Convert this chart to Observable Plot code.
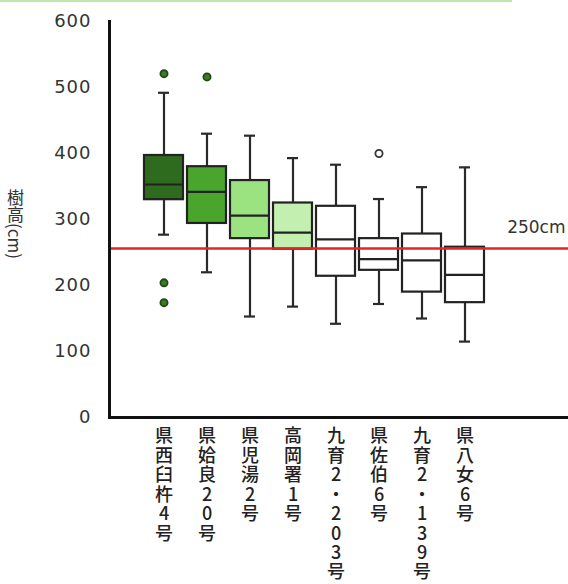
<!DOCTYPE html>
<html>
<head>
<meta charset="utf-8">
<script src="https://cdn.jsdelivr.net/npm/d3@7"></script>
<script src="https://cdn.jsdelivr.net/npm/@observablehq/plot@0.6"></script>
<style>
  html, body { margin: 0; padding: 0; background: #fff; }
  #wrap { position: relative; width: 568px; height: 584px; overflow: hidden; }
  #topbar { position: absolute; left: 0; top: 0; width: 512px; height: 2px; background: #bfe8b0; }
  #ylabel { position: absolute; left: 7px; top: 189px; height: 120px; writing-mode: vertical-rl; font-family: "Noto Sans CJK JP", "DejaVu Sans", sans-serif; font-size: 17px; color: #333; line-height: 1; white-space: nowrap; }
</style>
</head>
<body>
<div id="wrap">
  <div id="chart"></div>
  <div id="topbar"></div>
  <div id="ylabel">樹高(cm)</div>
</div>
<script>
const categories = ["県西臼杵4号", "県姶良20号", "県児湯2号", "高岡署1号", "九育2・203号", "県佐伯6号", "九育2・139号", "県八女6号"];
const whiskerLow  = [277, 220, 153, 168, 142, 172, 150, 115];
const q1          = [330, 294, 271, 255, 214, 223, 190, 174];
const median      = [353, 342, 306, 280, 270, 240, 238, 216];
const q3          = [397, 380, 359, 325, 320, 271, 278, 258];
const whiskerHigh = [492, 430, 427, 393, 383, 331, 349, 379];
const boxFill     = ["#2e6b1f", "#4aa52c", "#9be381", "#c3efb0", "#ffffff", "#ffffff", "#ffffff", "#ffffff"];
const outlierCat  = ["県西臼杵4号", "県西臼杵4号", "県西臼杵4号", "県姶良20号", "県佐伯6号"];
const outlierVal  = [521, 204, 174, 516, 400];
const outlierFill = ["#3a7a28", "#3a7a28", "#3a7a28", "#3a7a28", "#ffffff"];
const threshold = 256;
const thresholdLabel = "250cm";
const yTicks = [0, 100, 200, 300, 400, 500, 600];

const boxes = categories.map((c, i) => ({
  cat: c, lo: whiskerLow[i], q1: q1[i], med: median[i], q3: q3[i], hi: whiskerHigh[i], fill: boxFill[i]
}));
const outliers = outlierCat.map((c, i) => ({cat: c, v: outlierVal[i], fill: outlierFill[i]}));

const capInset = 14;

const plot = Plot.plot({
  width: 568,
  height: 584,
  marginLeft: 109,
  marginRight: 0,
  marginTop: 21,
  marginBottom: 167,
  style: {fontFamily: "'DejaVu Sans', sans-serif", fontSize: "17px", color: "#222", background: "#fff"},
  x: {domain: categories, range: [136, 492], padding: 0.1},
  y: {domain: [0, 600]},
  marks: [
    Plot.ruleX(boxes, {x: "cat", y1: "lo", y2: "q1", stroke: "#2a2a2a", strokeWidth: 2.2}),
    Plot.ruleX(boxes, {x: "cat", y1: "q3", y2: "hi", stroke: "#2a2a2a", strokeWidth: 2.2}),
    Plot.tickY(boxes, {x: "cat", y: "lo", stroke: "#2a2a2a", strokeWidth: 2.2, insetLeft: capInset, insetRight: capInset}),
    Plot.tickY(boxes, {x: "cat", y: "hi", stroke: "#2a2a2a", strokeWidth: 2.2, insetLeft: capInset, insetRight: capInset}),
    Plot.barY(boxes, {x: "cat", y1: "q1", y2: "q3", fill: d => d.fill, stroke: "#222", strokeWidth: 2.2}),
    Plot.tickY(boxes, {x: "cat", y: "med", stroke: "#222", strokeWidth: 2.2}),
    Plot.dot(outliers, {x: "cat", y: "v", r: 3.6, fill: d => d.fill, stroke: d => d.fill === "#ffffff" ? "#333" : "#1f4a14", strokeWidth: 1.8}),
    Plot.ruleY([threshold], {stroke: "#e02626", strokeWidth: 2.5}),
    Plot.text([threshold], {y: d => d, text: () => thresholdLabel, frameAnchor: "right", textAnchor: "end", dx: -3, dy: -21, fill: "#333", fontSize: 17}),
    Plot.ruleY([0], {stroke: "#111", strokeWidth: 3}),
    Plot.frame({anchor: "left", stroke: "#111", strokeWidth: 3}),
    Plot.axisY({ticks: yTicks, tickSize: 0, tickPadding: 18, fill: "#333", fontSize: 18, label: null, tickFormat: d => String(d)}),
    Plot.axisX({tickSize: 0, tickPadding: 11, label: null, fill: "#222", fontSize: 18, fontWeight: 500, lineHeight: 1.08,
      fontFamily: "'Noto Sans CJK JP', sans-serif", tickFormat: d => [...d].join("\n")})
  ]
});
document.getElementById("chart").appendChild(plot);
d3.select(plot).selectAll("[aria-label='y-axis tick label'] text").attr("letter-spacing", "1px");
</script>
</body>
</html>
